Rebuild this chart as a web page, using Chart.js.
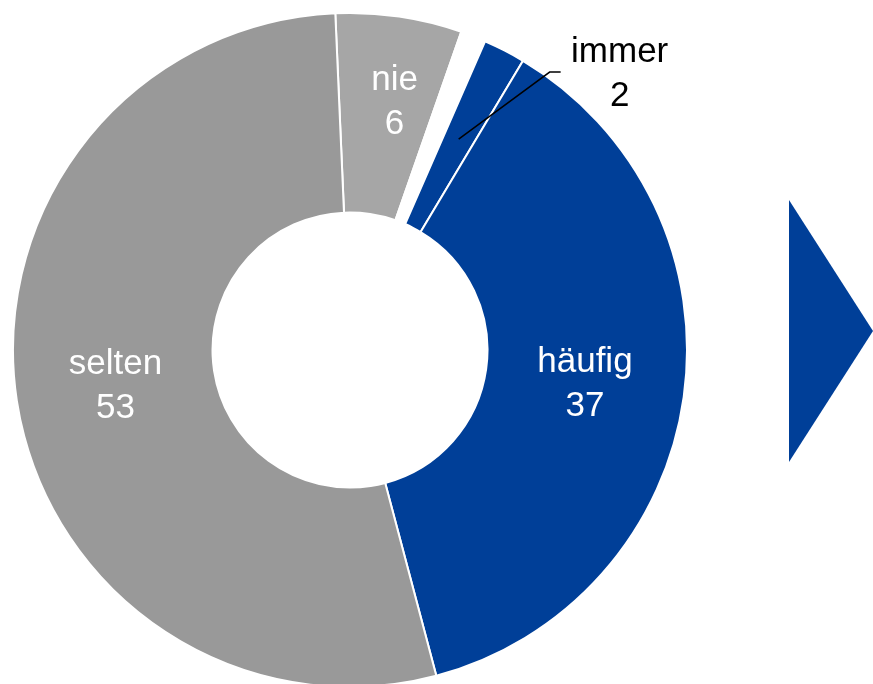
<!DOCTYPE html>
<html>
<head>
<meta charset="utf-8">
<script src="https://cdn.jsdelivr.net/npm/chart.js@4"></script>
<style>
  html, body { margin: 0; padding: 0; background: #fff; overflow: hidden; }
  body { width: 873px; height: 684px; position: relative; }
  #wrap { position: absolute; left: 12px; top: 12px; width: 676px; height: 676px; }
  #arrow {
    position: absolute; left: 789px; top: 200px; width: 84px; height: 262px;
    background: #003f98; clip-path: polygon(0 0, 100% 50%, 0 100%);
  }
</style>
</head>
<body>
<div id="wrap"><canvas id="ShareChart"></canvas></div>
<div id="arrow"></div>
<script>
//
//
// Data
var categories = ['nie', 'k. A.', 'immer', 'häufig', 'selten'];
var values = [6, 1.2, 2, 37, 53];
var value_labels = ['6', '', '2', '37', '53'];
var slice_colors = ['#a6a6a6', '#ffffff', '#003f98', '#003f98', '#999999'];

//
//
// Labels drawn on (or next to) the slices
var sliceLabels = {
  id: 'sliceLabels',
  afterDatasetsDraw: function(chart){
    var ctx = chart.ctx;
    var arcs = chart.getDatasetMeta(0).data;
    ctx.save();
    ctx.font = '35px "Liberation Sans", Arial, sans-serif';
    ctx.textAlign = 'center';
    ctx.textBaseline = 'middle';

    arcs.forEach(function(arc, i){
      if (value_labels[i] === '') return;
      var p = arc.getProps(['x', 'y', 'startAngle', 'endAngle', 'innerRadius', 'outerRadius']);
      var mid = (p.startAngle + p.endAngle) / 2;
      var r = (p.innerRadius + p.outerRadius) / 2;
      var px = p.x + Math.cos(mid) * r;
      var py = p.y + Math.sin(mid) * r;

      if (categories[i] === 'immer') {
        // leader line to the outside label
        ctx.strokeStyle = '#000';
        ctx.lineWidth = 1.5;
        ctx.beginPath();
        ctx.moveTo(px, py);
        ctx.lineTo(px + 91, py - 67);
        ctx.lineTo(px + 102, py - 67);
        ctx.stroke();
        ctx.fillStyle = '#000';
        ctx.fillText(categories[i], px + 161, py - 87);
        ctx.fillText(value_labels[i], px + 161, py - 43);
        return;
      }

      if (categories[i] === 'nie') {
        // small nudge, the slice is narrow
        px += 10;
        py -= 14;
      }

      ctx.fillStyle = '#ffffff';
      ctx.fillText(categories[i], px, py - 21);
      ctx.fillText(value_labels[i], px, py + 23);
    });
    ctx.restore();
  }
};

//
//
// Draw Chart
new Chart(document.getElementById('ShareChart').getContext('2d'), {
  type: 'doughnut',
  data: {
    labels: categories,
    datasets: [{
      data: values,
      backgroundColor: slice_colors,
      borderColor: '#ffffff',
      borderWidth: 2
    }]
  },
  options: {
    responsive: true,
    maintainAspectRatio: false,
    animation: false,
    cutout: '40.8%',
    rotation: -2.5,
    layout: { padding: 0 },
    plugins: {
      legend: { display: false },
      tooltip: { enabled: false }
    }
  },
  plugins: [sliceLabels]
});
</script>
</body>
</html>
